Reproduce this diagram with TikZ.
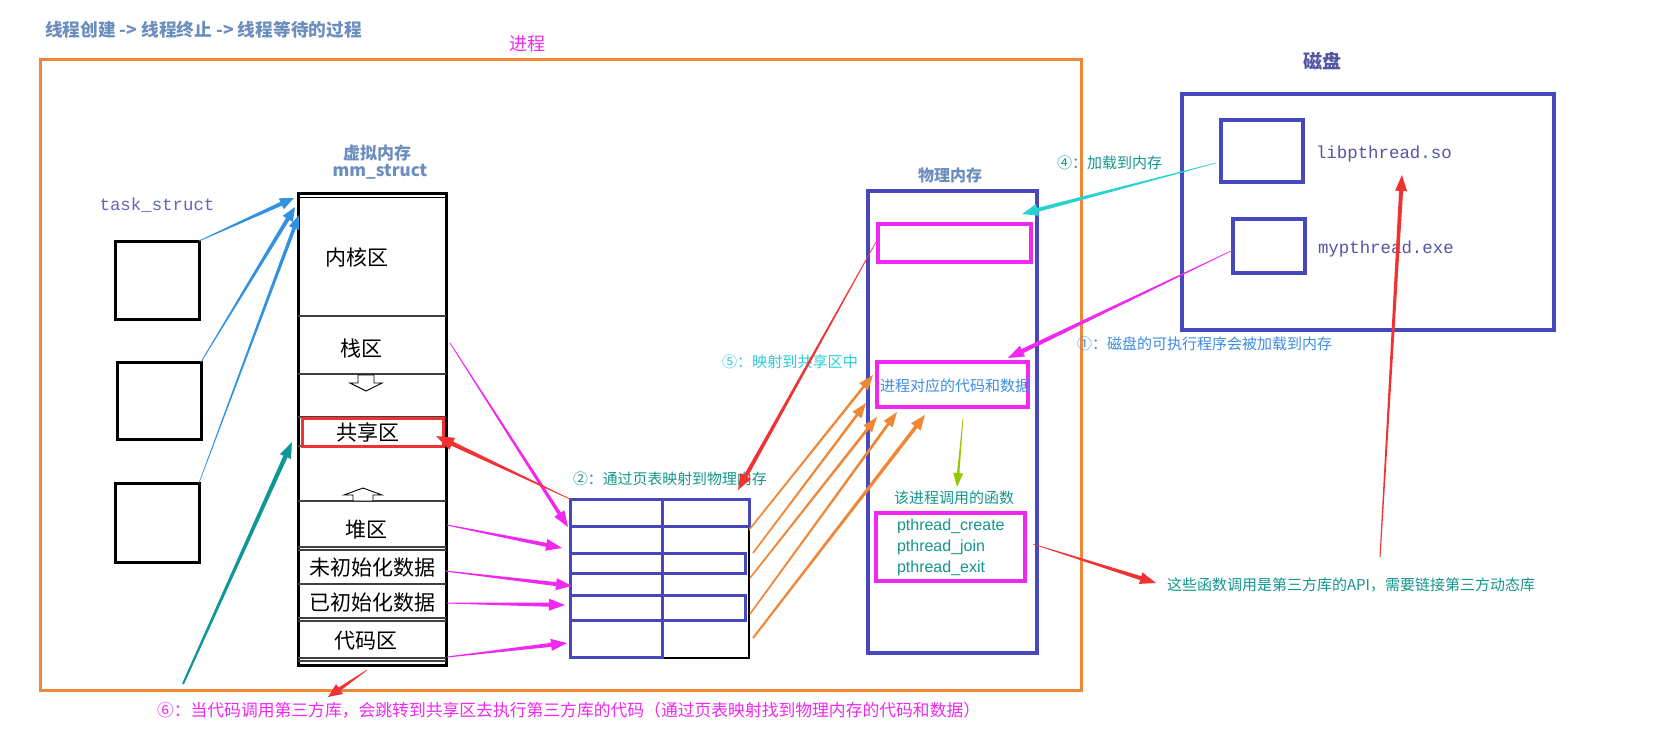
\documentclass[tikz,border=0pt]{standalone}
\usepackage{fontspec}
\setmainfont{Noto Sans CJK SC}
\newfontfamily\monof{Liberation Mono}
\newfontfamily\latsans{Liberation Sans}
\usetikzlibrary{calc,arrows.meta,fit}
\definecolor{stblue}{RGB}{108,142,191}
\definecolor{mag}{RGB}{240,40,240}
\definecolor{teal2}{RGB}{20,150,140}
\definecolor{cyan2}{RGB}{40,205,215}
\definecolor{blu2}{RGB}{60,140,230}
\definecolor{boxblue}{RGB}{72,72,190}
\definecolor{tsblue}{RGB}{100,100,190}
\definecolor{orng}{RGB}{240,135,55}
\definecolor{red2}{RGB}{240,50,50}
\definecolor{arrB}{RGB}{50,145,225}
\definecolor{grn2}{RGB}{150,200,0}
\definecolor{cyanA}{RGB}{40,210,210}
\definecolor{tealA}{RGB}{15,150,150}
\definecolor{diskc}{RGB}{85,85,165}
\newcommand\fsz[1]{\fontsize{#1}{#1}\selectfont}
% tapered arrow: colour, start, end, start half-width, end half-width, head half-width, head length
\newcommand\tarr[7]{%
  \coordinate (tb) at ($(#3)!#7!(#2)$);
  \fill[#1] ($(#2)!#4!90:(#3)$) -- ($(tb)!#5!90:(#3)$) -- ($(tb)!#6!90:(#3)$) -- (#3)
    -- ($(tb)!#6!-90:(#3)$) -- ($(tb)!#5!-90:(#3)$) -- ($(#2)!#4!-90:(#3)$) -- cycle;}
\tikzset{
  tbox/.style={draw=black,line width=3pt},
  divline/.style={draw=black!75,line width=1.2pt},
  vmt/.style={font=\fsz{21}},
  bluebox/.style={draw=boxblue,line width=3.5pt},
  magbox/.style={draw=mag,line width=3.5pt},
  cell/.style={draw=boxblue,line width=3pt},
  hollow/.style={draw=black,line width=0.9pt,fill=white},
}
\begin{document}
\begin{tikzpicture}[x=1pt,y=-1pt,every node/.style={inner sep=0pt,outer sep=0pt}]
\fill[white] (0,0) rectangle (1673,741);
\useasboundingbox (0,0) rectangle (1673,741);

% titles and frame
\node[anchor=west,text=stblue,font=\fsz{17.7}\bfseries] (title) at (45,30) {线程创建 -> 线程终止 -> 线程等待的过程};
\node[text=mag,font=\fsz{18}] (proclbl) at (527,44) {进程};
\node[fit={(40.5,60) (1081,690)},draw=orng,line width=3pt] (frame) {};

% task_struct
\node[text=tsblue,font=\monof\fsz{17.4}] (tslbl) at (157,205) {task\_struct};
\node[tbox,fit={(115,241) (199,319)}] (t1) {};
\node[tbox,fit={(117,362) (201,439)}] (t2) {};
\node[tbox,fit={(115,483) (199,562)}] (t3) {};

% virtual memory
\node[text=stblue,font=\fsz{17}\bfseries] (vmlbl1) at (377,153) {虚拟内存};
\node[text=stblue,font=\fsz{17}\bfseries] (vmlbl2) at (380,172) {mm\_struct};
\node[fit={(298,193) (446,665)},draw=black,line width=3pt] (vm) {};
\draw[black,line width=1pt] (298,197) -- (446,197);
\foreach \yy in {316,374,417,446,501,584,547,550,618,621,658,661}
  \draw[divline] (298,\yy) -- (446,\yy);
\node[vmt] (kern) at (357,257) {内核区};
\node[vmt] (stk) at (361,349) {栈区};
\node[fit={(302,418) (443,446)},draw=red2,line width=3pt] (shr) {};
\node[vmt] (shrt) at (368,432) {共享区};
\node[vmt] (heap) at (366,530) {堆区};
\node[vmt] (bss) at (372,568) {未初始化数据};
\node[vmt] (dat) at (372,603) {已初始化数据};
\node[vmt] (code) at (366,641) {代码区};
\draw[hollow] (358,375) -- (374,375) -- (374,383) -- (382,383) -- (366,391) -- (350,383) -- (358,383) -- cycle;
\draw[hollow] (363,488) -- (382,495) -- (373,495) -- (373,501) -- (353,501) -- (353,495) -- (344,495) -- cycle;

% page table
\node[fit={(570,499) (749,658)}] (ptab) {};
\draw[black,line width=2.5pt] (749,526) -- (749,658) -- (662,658);
\foreach \ya/\yb in {499/526,526/553,553/573,573/595,595/620,620/657}
  \draw[cell] (570,\ya) rectangle (662,\yb);
\draw[cell] (662,499) rectangle (749,526);
\draw[cell] (662,553) rectangle (745,573);
\draw[cell] (662,595) rectangle (745,620);

% physical memory
\node[text=stblue,font=\fsz{16}\bfseries] (pmlbl) at (950,175) {物理内存};
\node[bluebox,fit={(868,191) (1037,653)}] (pm) {};
\node[magbox,fit={(878,224) (1031,262)}] (pm1) {};
\node[magbox,fit={(877,362) (1028,407)}] (pm2) {};
\node[anchor=west,text=blu2,font=\fsz{15}] (pm2t) at (880,386) {进程对应的代码和数据};
\node[anchor=west,text=teal2,font=\fsz{15}] (fnlbl) at (894,498) {该进程调用的函数};
\node[magbox,fit={(876,513) (1025,581)}] (pm3) {};
\node[anchor=west,text=teal2,font=\latsans\fsz{16}] (f1) at (897,526) {pthread\_create};
\node[anchor=west,text=teal2,font=\latsans\fsz{16}] (f2) at (897,547) {pthread\_join};
\node[anchor=west,text=teal2,font=\latsans\fsz{16}] (f3) at (897,568) {pthread\_exit};

% disk
\node[text=diskc,font=\fsz{19}\bfseries] (disklbl) at (1322,61) {磁盘};
\node[bluebox,fit={(1182,94) (1554,330)}] (disk) {};
\node[bluebox,fit={(1221,120) (1303,182)}] (d1) {};
\node[bluebox,fit={(1233,219) (1305,273)}] (d2) {};
\node[anchor=west,text=diskc,font=\monof\fsz{17.4}] (libso) at (1316,154) {libpthread.so};
\node[anchor=west,text=diskc,font=\monof\fsz{17.4}] (exe) at (1318,249) {mypthread.exe};

% labels
\node[anchor=west,text=teal2,font=\fsz{15}] (l4) at (1057,163) {④：加载到内存};
\node[anchor=west,text=blu2,font=\fsz{15}] (l1) at (1077,344) {①：磁盘的可执行程序会被加载到内存};
\node[anchor=west,text=teal2,font=\fsz{14.9}] (l2) at (573,479) {②：通过页表映射到物理内存};
\node[anchor=west,text=cyan2,font=\fsz{15.1}] (l5) at (722,362) {⑤：映射到共享区中};
\node[anchor=west,text=teal2,font=\fsz{15}] (lapi) at (1167,585) {这些函数调用是第三方库的API，需要链接第三方动态库};
\node[anchor=west,text=mag,font=\fsz{16.8}] (l6) at (157,710) {⑥：当代码调用第三方库，会跳转到共享区去执行第三方库的代码（通过页表映射找到物理内存的代码和数据）};

% arrow end points
\coordinate (vmA) at (294,198);
\coordinate (vmB) at (295,207);
\coordinate (vmC) at (299,215);
\coordinate (vmD) at (292,442);
\coordinate (s6) at (183,684);
\coordinate (stkR) at (450,343);  \coordinate (ptA) at (568,527);
\coordinate (heapR) at (447,525); \coordinate (ptB) at (562,548);
\coordinate (bssR) at (445,571);  \coordinate (ptC) at (572,586);
\coordinate (datR) at (447,603);  \coordinate (ptD) at (565,605);
\coordinate (codeR) at (447,657); \coordinate (ptE) at (567,643);
\coordinate (ptTL) at (572,500);  \coordinate (shrR) at (436,436);
\coordinate (pm1W) at (876,242);  \coordinate (ptTop) at (738,490);
\coordinate (vmBot) at (367,670); \coordinate (l6tip) at (328,697);
\coordinate (pm3E) at (1033,544); \coordinate (apiW) at (1156,583);
\coordinate (apiTop) at (1380,557); \coordinate (soTip) at (1402,175);
\coordinate (o1s) at (749,530); \coordinate (o1e) at (873,375);
\coordinate (o2s) at (753,553); \coordinate (o2e) at (866,403);
\coordinate (o3s) at (750,578); \coordinate (o3e) at (877,417);
\coordinate (o4s) at (750,614); \coordinate (o4e) at (897,412);
\coordinate (o5s) at (753,638); \coordinate (o5e) at (925,415);
\coordinate (pm2S) at (963,418); \coordinate (fnTop) at (957,487);
\coordinate (d1W) at (1216,163); \coordinate (pm1E) at (1022,214);
\coordinate (d2W) at (1233,250); \coordinate (pm2E) at (1008,358);

% arrows
\tarr{arrB}{t1.north east}{vmA}{0.4pt}{2pt}{6pt}{14pt}
\tarr{arrB}{t2.north east}{vmB}{0.4pt}{2pt}{6pt}{14pt}
\tarr{arrB}{t3.north east}{vmC}{0.3pt}{1.8pt}{5.5pt}{14pt}
\tarr{tealA}{s6}{vmD}{1pt}{2.2pt}{6pt}{16pt}
\tarr{mag}{stkR}{ptA}{0.4pt}{1.8pt}{6pt}{16pt}
\tarr{mag}{heapR}{ptB}{0.5pt}{2pt}{6pt}{16pt}
\tarr{mag}{bssR}{ptC}{0.5pt}{2pt}{6pt}{16pt}
\tarr{mag}{datR}{ptD}{0.5pt}{2pt}{6pt}{16pt}
\tarr{mag}{codeR}{ptE}{0.5pt}{2pt}{6pt}{16pt}
\tarr{red2}{ptTL}{shrR}{0.3pt}{2.2pt}{6.5pt}{18pt}
\tarr{red2}{pm1W}{ptTop}{0.3pt}{2pt}{6pt}{16pt}
\tarr{red2}{vmBot}{l6tip}{0.3pt}{1.8pt}{6pt}{14pt}
\tarr{red2}{pm3E}{apiW}{0.3pt}{2pt}{6pt}{16pt}
\tarr{red2}{apiTop}{soTip}{0.5pt}{2pt}{6pt}{16pt}
\tarr{orng}{o1s}{o1e}{0.8pt}{1.3pt}{5.5pt}{15pt}
\tarr{orng}{o2s}{o2e}{0.8pt}{1.3pt}{5.5pt}{15pt}
\tarr{orng}{o3s}{o3e}{0.8pt}{1.4pt}{5.5pt}{15pt}
\tarr{orng}{o4s}{o4e}{0.8pt}{1.4pt}{5.5pt}{15pt}
\tarr{orng}{o5s}{o5e}{1pt}{1.8pt}{6pt}{15pt}
\tarr{grn2}{pm2S}{fnTop}{0.3pt}{1.2pt}{5pt}{14pt}
\tarr{cyanA}{d1W}{pm1E}{0.3pt}{2pt}{6pt}{16pt}
\tarr{mag}{d2W}{pm2E}{0.3pt}{2.2pt}{6pt}{16pt}
\end{tikzpicture}
\end{document}
